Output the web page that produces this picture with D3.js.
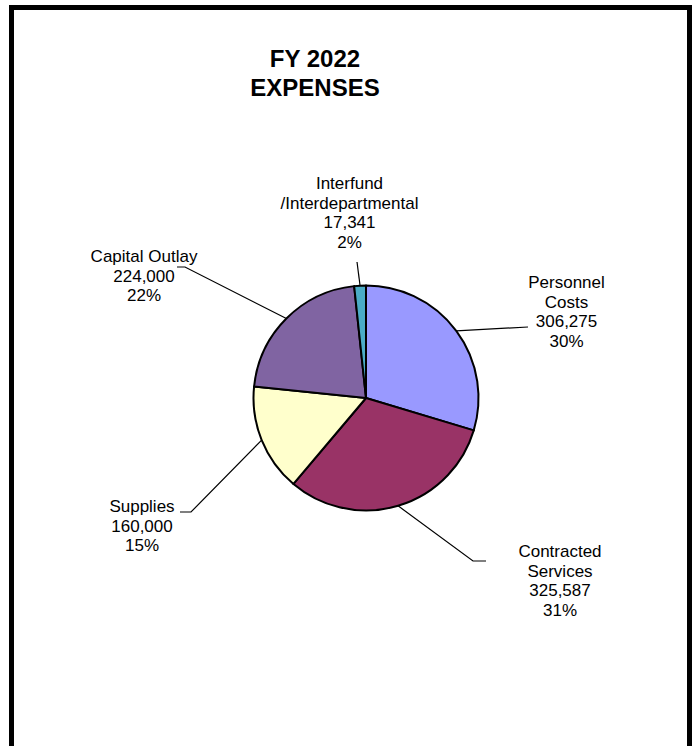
<!DOCTYPE html>
<html>
<head>
<meta charset="utf-8">
<script src="https://cdn.jsdelivr.net/npm/d3@7"></script>
<style>
  html, body { margin: 0; padding: 0; background: #fff; }
  svg { display: block; }
  text { font-family: Arial, "Liberation Sans", sans-serif; fill: #000; }
</style>
</head>
<body>
<svg id="chart" width="696" height="746"></svg>
<script>
// FY 2022 expense categories, in clockwise order from 12 o'clock
const categories = ["Personnel Costs", "Contracted Services", "Supplies", "Capital Outlay", "Interfund /Interdepartmental"];
const categoryLines = [["Personnel", "Costs"], ["Contracted", "Services"], ["Supplies"], ["Capital Outlay"], ["Interfund", "/Interdepartmental"]];
const amounts = [306275, 325587, 160000, 224000, 17341];
const percentLabels = ["30%", "31%", "15%", "22%", "2%"];
const sliceColors = ["#9999FF", "#993366", "#FFFFCC", "#8064A2", "#4BACC6"];
const titleLines = ["FY 2022", "EXPENSES"];

// label placement: text centre, first baseline, and leader-line bend points
const labelLayout = [
  { x: 566.5, y: 288, leader: [[528, 327]] },
  { x: 560,   y: 557, leader: [[473, 561], [486, 561]] },
  { x: 142,   y: 512, leader: [[191, 512], [180, 512]] },
  { x: 144,   y: 262, leader: [[185, 267], [177, 267]] },
  { x: 349.5, y: 189, leader: [[357, 262]] }
];

const svg = d3.select("#chart");
const fmt = d3.format(",");

// frame
svg.append("rect")
  .attr("x", 11.5).attr("y", 7.5)
  .attr("width", 678).attr("height", 800)
  .attr("fill", "none").attr("stroke", "#000").attr("stroke-width", 5);

// title
svg.append("text")
  .attr("text-anchor", "middle")
  .attr("font-weight", "bold")
  .attr("font-size", 24)
  .selectAll("tspan").data(titleLines).join("tspan")
  .attr("x", 315)
  .attr("y", (d, i) => 67 + i * 29)
  .text(d => d);

const cx = 366, cy = 398, r = 112.5;
const pie = d3.pie().sort(null).value(d => d.value);
const arc = d3.arc().innerRadius(0).outerRadius(r);
const edgeArc = d3.arc().innerRadius(r).outerRadius(r);

const rows = categories.map((c, i) => ({
  name: c, lines: categoryLines[i], value: amounts[i],
  pct: percentLabels[i], color: sliceColors[i], layout: labelLayout[i]
}));
const arcs = pie(rows);

const g = svg.append("g").attr("transform", `translate(${cx},${cy})`);

// leader lines
svg.append("g").selectAll("path").data(arcs).join("path")
  .attr("fill", "none").attr("stroke", "#000").attr("stroke-width", 1.2)
  .attr("d", d => {
    const [ex, ey] = edgeArc.centroid(d);
    return d3.line()([[cx + ex, cy + ey], ...d.data.layout.leader]);
  });

// slices
g.selectAll("path").data(arcs).join("path")
  .attr("d", arc)
  .attr("fill", d => d.data.color)
  .attr("stroke", "#000").attr("stroke-width", 2)
  .attr("stroke-linejoin", "round");

// labels
svg.append("g").selectAll("text").data(arcs).join("text")
  .attr("text-anchor", "middle")
  .attr("font-size", 17)
  .each(function (d) {
    const t = d3.select(this);
    const lines = [...d.data.lines, fmt(d.data.value), d.data.pct];
    lines.forEach((s, i) => {
      t.append("tspan")
        .attr("x", d.data.layout.x)
        .attr("y", d.data.layout.y + i * 19.5)
        .text(s);
    });
  });
</script>
</body>
</html>
